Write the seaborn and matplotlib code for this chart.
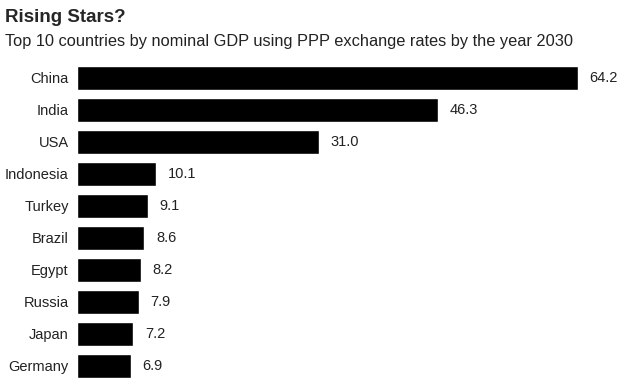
import matplotlib
matplotlib.use("Agg")
import matplotlib.pyplot as plt
import seaborn as sns
import pandas as pd

countries = ["China", "India", "USA", "Indonesia", "Turkey", "Brazil", "Egypt", "Russia", "Japan", "Germany"]
gdp = [64.2, 46.3, 31.0, 10.1, 9.1, 8.6, 8.2, 7.9, 7.2, 6.9]

df = pd.DataFrame({"country": countries, "gdp": gdp})

sns.set_style("white")
plt.rcParams["font.family"] = ["Liberation Sans", "DejaVu Sans"]

fig = plt.figure(figsize=(6.22, 3.86), dpi=100)
ax = fig.add_axes([0.124, 0.0104, 0.805, 0.829])

sns.barplot(data=df, x="gdp", y="country", color="black", width=0.78,
            saturation=1, ax=ax, orient="h")

for i, v in enumerate(gdp):
    ax.text(v + 1.5, i, f"{v:.1f}", va="center", ha="left", fontsize=10.5, color="#222222")

ax.set_xlim(0, 64.2)
ax.set_ylim(9.5, -0.5)
ax.set_xlabel("")
ax.set_ylabel("")
ax.set_xticks([])
ax.tick_params(axis="y", length=0, pad=6, labelsize=10.5, labelcolor="#222222")
sns.despine(ax=ax, left=True, bottom=True)

fig.text(0.008, 0.955, "Rising Stars?", fontsize=13.5, fontweight="bold", va="center", ha="left")
fig.text(0.008, 0.893, "Top 10 countries by nominal GDP using PPP exchange rates by the year 2030",
         fontsize=11.8, va="center", ha="left", color="#222222")

fig.savefig("out.png", dpi=100)
